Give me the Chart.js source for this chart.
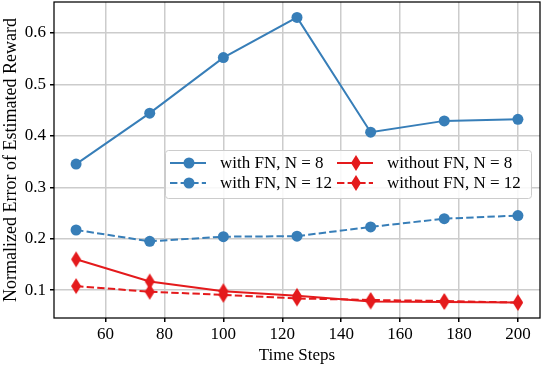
<!DOCTYPE html>
<html>
<head>
<meta charset="utf-8">
<script src="https://cdn.jsdelivr.net/npm/chart.js@4"></script>
<style>
  body { margin: 0; background: #fff; }
  canvas { display: block; }
</style>
</head>
<body>
<canvas id="grafico" width="542" height="366"></canvas>
<script>
const steps = [50, 75, 100, 125, 150, 175, 200];
const withFN8 = [0.345, 0.444, 0.552, 0.630, 0.407, 0.429, 0.432];
const withFN12 = [0.217, 0.195, 0.204, 0.205, 0.223, 0.239, 0.245];
const withoutFN8 = [0.160, 0.117, 0.098, 0.089, 0.078, 0.077, 0.076];
const withoutFN12 = [0.108, 0.097, 0.091, 0.084, 0.081, 0.079, 0.076];
const xTicks = [60, 80, 100, 120, 140, 160, 180, 200];
const yTicks = [0.1, 0.2, 0.3, 0.4, 0.5, 0.6];
const labels = ['with FN, N = 8', 'with FN, N = 12', 'without FN, N = 8', 'without FN, N = 12'];

const azul = '#377eb8';
const vermelho = '#e41a1c';
const fonte = "'Liberation Serif', serif";
const tracejado = [7.4, 3.2];

Chart.defaults.font.family = fonte;
Chart.defaults.color = '#000';

// desenha um marcador (circulo ou diamante fino)
function desenharMarcador(ctx, tipo, x, y, cor) {
  ctx.save();
  ctx.fillStyle = cor;
  ctx.beginPath();
  if (tipo === 'circle') {
    ctx.arc(x, y, 5.5, 0, Math.PI * 2);
  } else {
    ctx.moveTo(x, y - 8);
    ctx.lineTo(x + 5, y);
    ctx.lineTo(x, y + 8);
    ctx.lineTo(x - 5, y);
    ctx.closePath();
  }
  ctx.fill();
  ctx.restore();
}

const diamante = document.createElement('canvas');
diamante.width = 12;
diamante.height = 18;
desenharMarcador(diamante.getContext('2d'), 'diamond', 6, 9, vermelho);

function pontos(valores) {
  return steps.map((s, i) => ({ x: s, y: valores[i] }));
}

function serie(label, valores, cor, marcador, dash) {
  return {
    label: label,
    data: pontos(valores),
    borderColor: cor,
    backgroundColor: cor,
    borderWidth: 2,
    borderDash: dash,
    pointStyle: marcador === 'circle' ? 'circle' : diamante,
    pointRadius: 5.5,
    pointBorderWidth: 0,
    pointHoverRadius: 5.5,
    fill: false,
    tension: 0
  };
}

const legendaPlugin = {
  id: 'legenda',
  afterDraw(chart) {
    const ctx = chart.ctx;
    const a = chart.chartArea;
    // moldura dos eixos
    ctx.save();
    ctx.strokeStyle = '#000';
    ctx.lineWidth = 1.25;
    ctx.strokeRect(a.left, a.top, a.right - a.left, a.bottom - a.top);

    // caixa da legenda
    const bx = 165, by = 150, bw = 366, bh = 48;
    ctx.beginPath();
    ctx.roundRect(bx + 0.5, by + 0.5, bw, bh, 3);
    ctx.fillStyle = 'rgba(255,255,255,0.85)';
    ctx.fill();
    ctx.strokeStyle = '#cccccc';
    ctx.lineWidth = 1;
    ctx.stroke();

    const itens = [
      { x: 170, y: 163, cor: azul, m: 'circle', dash: [] },
      { x: 170, y: 183, cor: azul, m: 'circle', dash: tracejado },
      { x: 337, y: 163, cor: vermelho, m: 'diamond', dash: [] },
      { x: 337, y: 183, cor: vermelho, m: 'diamond', dash: tracejado }
    ];
    ctx.font = '17px ' + fonte;
    ctx.textBaseline = 'middle';
    itens.forEach((it, i) => {
      ctx.strokeStyle = it.cor;
      ctx.lineWidth = 2;
      ctx.setLineDash(it.dash);
      ctx.beginPath();
      ctx.moveTo(it.x, it.y);
      ctx.lineTo(it.x + 36, it.y);
      ctx.stroke();
      ctx.setLineDash([]);
      desenharMarcador(ctx, it.m, it.x + 19, it.y, it.cor);
      ctx.fillStyle = '#000';
      ctx.fillText(labels[i], it.x + 50, it.y + 1);
    });
    ctx.restore();
  }
};

const ctx = document.getElementById('grafico').getContext('2d');
new Chart(ctx, {
  type: 'line',
  data: {
    datasets: [
      serie(labels[0], withFN8, azul, 'circle', []),
      serie(labels[1], withFN12, azul, 'circle', tracejado),
      serie(labels[2], withoutFN8, vermelho, 'diamond', []),
      serie(labels[3], withoutFN12, vermelho, 'diamond', tracejado)
    ]
  },
  options: {
    responsive: false,
    animation: false,
    layout: { autoPadding: false, padding: { top: 2, right: 2, left: 0, bottom: 0 } },
    plugins: {
      legend: { display: false },
      tooltip: { enabled: false }
    },
    scales: {
      x: {
        type: 'linear',
        min: 42.5,
        max: 207.5,
        afterBuildTicks: s => { s.ticks = xTicks.map(v => ({ value: v })); },
        afterFit: s => { s.height = 48; s.paddingLeft = 0; s.paddingRight = 0; },
        grid: { color: '#cccccc', lineWidth: 1.5, tickLength: 4, tickColor: '#000' },
        border: { display: false },
        ticks: { font: { family: fonte, size: 17 }, color: '#000', padding: 2, maxRotation: 0 },
        title: { display: true, text: 'Time Steps', font: { family: fonte, size: 17 }, color: '#000', padding: { top: 0, bottom: 0 } }
      },
      y: {
        min: 0.046,
        max: 0.66,
        afterBuildTicks: s => { s.ticks = yTicks.map(v => ({ value: v })); },
        afterFit: s => { s.width = 54; s.paddingTop = 0; s.paddingBottom = 0; },
        grid: { color: '#cccccc', lineWidth: 1.5, tickLength: 4, tickColor: '#000' },
        border: { display: false },
        ticks: { font: { family: fonte, size: 17 }, color: '#000', padding: 4, callback: v => v.toFixed(1) },
        title: { display: true, text: 'Normalized Error of Estimated Reward', font: { family: fonte, size: 18 }, color: '#000', padding: { top: 0, bottom: 0 } }
      }
    }
  },
  plugins: [legendaPlugin]
});
</script>
</body>
</html>
